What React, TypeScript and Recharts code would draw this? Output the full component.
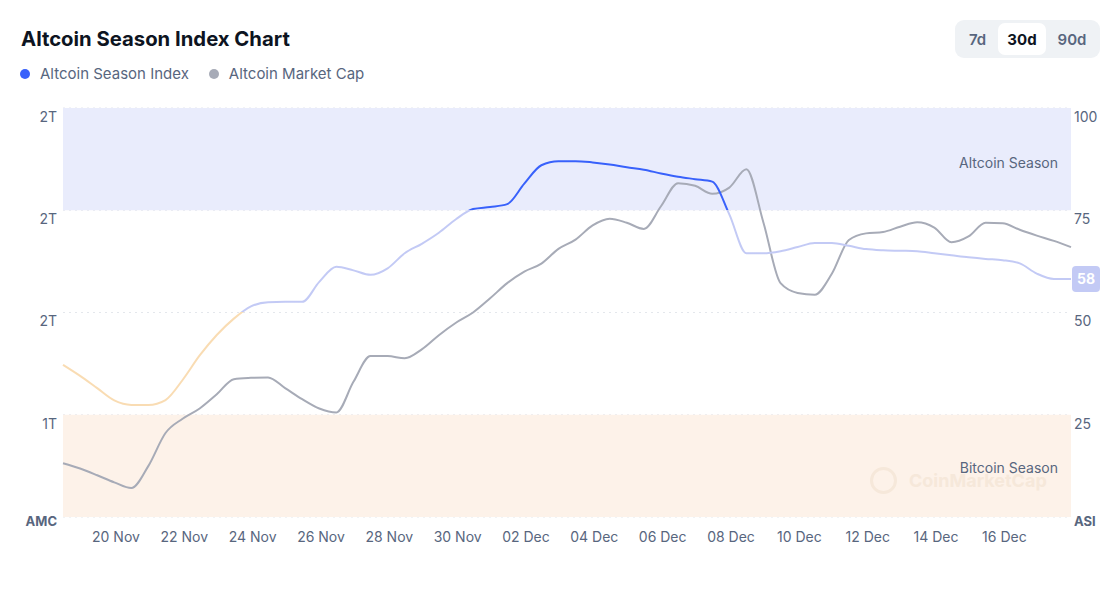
import {
  LineChart,
  Line,
  XAxis,
  YAxis,
  CartesianGrid,
  ReferenceArea,
  ReferenceDot,
} from "recharts";

// Samples every half day, starting 18 Nov ~11:00 (t = days since 18 Nov 00:00)
const START_T = 0.45;
const STEP = 0.5;

// Altcoin Season Index (0-100)
const asiValues = [
  37.2, 34.5, 31.5, 28.5, 27.4, 27.4, 28.6, 33.5, 39.5, 44.5,
  48.5, 51.5, 52.5, 52.6, 52.6, 57.5, 61.2, 60.3, 59.2, 60.8,
  64.5, 66.8, 69.5, 72.8, 75.3, 75.8, 76.5, 81.5, 86.0, 87.0,
  87.0, 86.7, 86.2, 85.5, 84.9, 84.0, 83.2, 82.6, 82.0, 74.0,
  64.5, 64.5, 65.0, 66.0, 67.0, 67.0, 66.3, 65.5, 65.2, 65.1,
  65.0, 64.5, 64.0, 63.5, 63.1, 62.8, 62.0, 59.5, 58.2, 58.2,
];

// Altcoin market cap, trillions USD
const amcValues = [
  1.171, 1.159, 1.144, 1.128, 1.115, 1.165, 1.239, 1.271, 1.294, 1.326,
  1.36, 1.363, 1.364, 1.34, 1.315, 1.294, 1.285, 1.354, 1.412, 1.412,
  1.407, 1.427, 1.459, 1.487, 1.51, 1.542, 1.576, 1.602, 1.62, 1.653,
  1.674, 1.706, 1.721, 1.712, 1.698, 1.749, 1.801, 1.795, 1.777, 1.791,
  1.832, 1.712, 1.576, 1.554, 1.55, 1.597, 1.673, 1.688, 1.691, 1.703,
  1.713, 1.701, 1.668, 1.681, 1.712, 1.711, 1.696, 1.683, 1.671, 1.657,
];

const dateLabels = [
  "20 Nov", "22 Nov", "24 Nov", "26 Nov", "28 Nov", "30 Nov", "02 Dec",
  "04 Dec", "06 Dec", "08 Dec", "10 Dec", "12 Dec", "14 Dec", "16 Dec",
];
const dateTicks = dateLabels.map((_, i) => 2 + i * 2);

const asiTicks = [0, 25, 50, 75, 100];
const amcTicks = [1.05, 1.28, 1.51, 1.74, 1.97];

const data = asiValues.map((asi, i) => ({
  t: START_T + i * STEP,
  asi,
  amc: amcValues[i],
}));

const lastPoint = data[data.length - 1];

const BLUE = "#3861fb";
const LAVENDER = "#c3caf5";
const ORANGE = "#f9dcb3";
const GRAY = "#a7abb7";
const TEXT = "#58667e";

const PLOT_TOP = 108;
const PLOT_BOTTOM = 517;

function LeftTick(props: any) {
  const { x, y, payload, index } = props;
  const isBottom = index === 0;
  return (
    <text
      x={x + 2}
      y={isBottom ? y + 5 : y + 10}
      textAnchor="end"
      dominantBaseline="middle"
      fontSize={isBottom ? 13 : 14}
      fontWeight={isBottom ? 700 : 400}
      fill={TEXT}
    >
      {isBottom ? "AMC" : `${Math.round(payload.value)}T`}
    </text>
  );
}

function RightTick(props: any) {
  const { x, y, payload, index } = props;
  const isBottom = index === 0;
  return (
    <text
      x={x - 5}
      y={isBottom ? y + 5 : y + 10}
      textAnchor="start"
      dominantBaseline="middle"
      fontSize={isBottom ? 13 : 14}
      fontWeight={isBottom ? 700 : 400}
      fill={TEXT}
    >
      {isBottom ? "ASI" : payload.value}
    </text>
  );
}

function RangeButton({ label, width, active }: { label: string; width: number; active?: boolean }) {
  return (
    <div
      style={{
        width,
        height: 32,
        display: "flex",
        alignItems: "center",
        justifyContent: "center",
        borderRadius: 7,
        background: active ? "#ffffff" : "transparent",
        color: active ? "#0d1421" : TEXT,
        fontWeight: active ? 700 : 600,
        fontSize: 15,
      }}
    >
      {label}
    </div>
  );
}

export default function App() {
  return (
    <div
      style={{
        position: "absolute",
        left: 0,
        top: 0,
        width: 1116,
        height: 596,
        background: "#ffffff",
        fontFamily: "Inter, 'Noto Sans', sans-serif",
        overflow: "hidden",
      }}
    >
      <div
        style={{
          position: "absolute",
          left: 21,
          top: 26,
          fontSize: 20.3,
          fontWeight: 700,
          color: "#0d1421",
        }}
      >
        Altcoin Season Index Chart
      </div>

      <div
        style={{
          position: "absolute",
          left: 20,
          top: 64,
          display: "flex",
          alignItems: "center",
          fontSize: 15,
          color: TEXT,
        }}
      >
        <span style={{ width: 10, height: 10, borderRadius: 5, background: BLUE, marginRight: 10 }} />
        <span style={{ marginRight: 20 }}>Altcoin Season Index</span>
        <span style={{ width: 10, height: 10, borderRadius: 5, background: GRAY, marginRight: 10 }} />
        <span>Altcoin Market Cap</span>
      </div>

      <div
        style={{
          position: "absolute",
          left: 955,
          top: 20,
          height: 38,
          padding: "0 2px",
          display: "flex",
          alignItems: "center",
          background: "#eff2f5",
          borderRadius: 9,
        }}
      >
        <RangeButton label="7d" width={41} />
        <RangeButton label="30d" width={48} active />
        <RangeButton label="90d" width={52} />
      </div>

      <div style={{ position: "absolute", left: 0, top: 0 }}>
        <LineChart
          width={1116}
          height={596}
          data={data}
          margin={{ top: PLOT_TOP, right: 0, bottom: 0, left: 0 }}
        >
          <defs>
            <linearGradient
              id="asiStroke"
              gradientUnits="userSpaceOnUse"
              x1="0"
              y1={PLOT_TOP}
              x2="0"
              y2={PLOT_BOTTOM}
            >
              <stop offset="0" stopColor={BLUE} />
              <stop offset="0.25" stopColor={BLUE} />
              <stop offset="0.25" stopColor={LAVENDER} />
              <stop offset="0.5" stopColor={LAVENDER} />
              <stop offset="0.5" stopColor={ORANGE} />
              <stop offset="1" stopColor={ORANGE} />
            </linearGradient>
          </defs>
          <ReferenceArea
            yAxisId="asi"
            y1={75}
            y2={100}
            fill="#e9ecfc"
            fillOpacity={1}
            stroke="none"
            label={{ value: "Altcoin Season", position: "insideRight", offset: 13, dy: 4, fill: TEXT, fontSize: 14 }}
          />
          <ReferenceArea
            yAxisId="asi"
            y1={0}
            y2={25}
            fill="#fdf2e9"
            fillOpacity={1}
            stroke="none"
            label={{ value: "Bitcoin Season", position: "insideRight", offset: 13, dy: 2, fill: TEXT, fontSize: 14 }}
          />
          <CartesianGrid
            yAxisId="asi"
            vertical={false}
            horizontal
            stroke="#e4e7ec"
            strokeDasharray="2 4"
          />
          <XAxis
            dataKey="t"
            type="number"
            domain={[START_T, START_T + STEP * (asiValues.length - 1)]}
            ticks={dateTicks}
            tickFormatter={(v: number) => dateLabels[dateTicks.indexOf(v)] ?? ""}
            axisLine={false}
            tickLine={false}
            tick={{ fill: TEXT, fontSize: 14 }}
            tickMargin={9}
            height={79}
            interval={0}
          />
          <YAxis
            yAxisId="amc"
            orientation="left"
            domain={[amcTicks[0], amcTicks[amcTicks.length - 1]]}
            ticks={amcTicks}
            axisLine={false}
            tickLine={false}
            tick={<LeftTick />}
            width={63}
            interval={0}
          />
          <YAxis
            yAxisId="asi"
            orientation="right"
            domain={[0, 100]}
            ticks={asiTicks}
            axisLine={false}
            tickLine={false}
            tick={<RightTick />}
            width={45}
            interval={0}
          />
          <Line
            yAxisId="amc"
            type="monotone"
            dataKey="amc"
            stroke={GRAY}
            strokeWidth={2}
            dot={false}
            activeDot={false}
            isAnimationActive={false}
          />
          <Line
            yAxisId="asi"
            type="monotone"
            dataKey="asi"
            stroke="url(#asiStroke)"
            strokeWidth={2}
            dot={false}
            activeDot={false}
            isAnimationActive={false}
          />
          <ReferenceDot
            yAxisId="asi"
            x={lastPoint.t}
            y={lastPoint.asi}
            ifOverflow="visible"
            shape={(p: any) => (
              <g>
                <rect x={p.cx + 1} y={p.cy - 13} width={28} height={26} rx={4} fill={LAVENDER} />
                <text
                  x={p.cx + 15}
                  y={p.cy + 1}
                  textAnchor="middle"
                  dominantBaseline="middle"
                  fill="#ffffff"
                  fontSize={14}
                  fontWeight={700}
                >
                  {Math.round(lastPoint.asi)}
                </text>
              </g>
            )}
          />
        </LineChart>
      </div>

      <div
        style={{
          position: "absolute",
          left: 870,
          top: 467,
          display: "flex",
          alignItems: "center",
          color: "#f6e8da",
          fontSize: 18,
          fontWeight: 700,
          pointerEvents: "none",
        }}
      >
        <span
          style={{
            width: 27,
            height: 27,
            borderRadius: 14,
            border: "3px solid #f6e8da",
            boxSizing: "border-box",
            marginRight: 12,
          }}
        />
        CoinMarketCap
      </div>
    </div>
  );
}
